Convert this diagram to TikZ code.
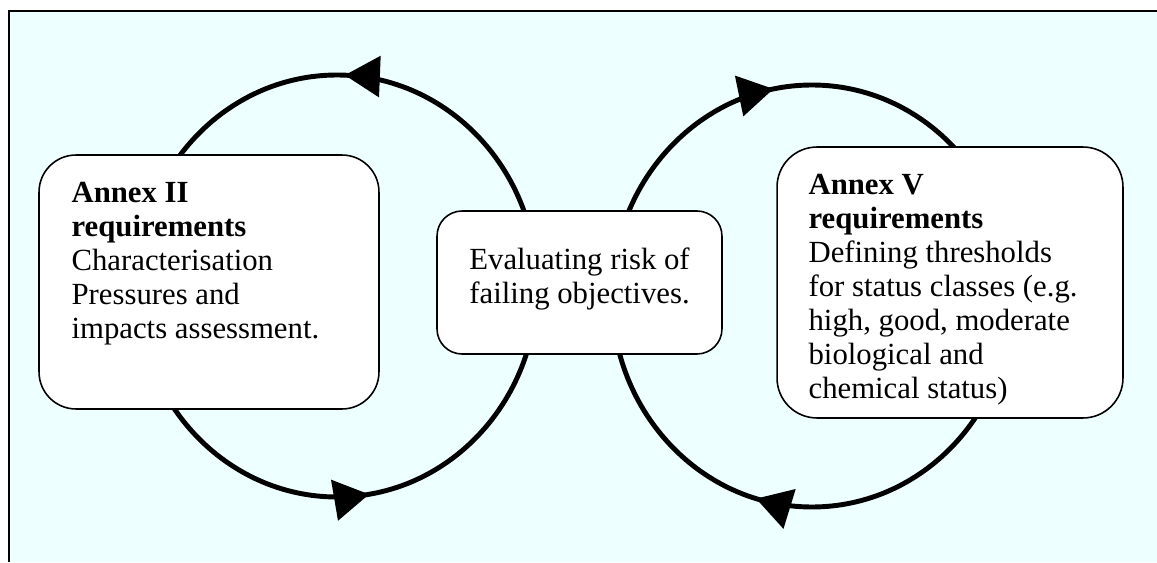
\documentclass[tikz,border=0pt]{standalone}
\usepackage{fontspec}
\setmainfont{Liberation Serif}
\usepackage{tikz}
\usetikzlibrary{arrows.meta,positioning,decorations.markings}
\definecolor{paleaqua}{RGB}{238,255,255}
\tikzset{
  panel/.style={draw=black, line width=0.9pt, fill=white, inner sep=0pt},
  note/.style={align=left, inner sep=0pt, font=\fontsize{17.5}{19.3}\selectfont},
  loopline/.style={line width=2.8pt, draw=black, postaction={decorate}}
}

\begin{document}
\begin{tikzpicture}[x=0.02cm, y=0.02cm]
  \useasboundingbox (0,0) rectangle (1157,562);
  % backdrop
  \fill[paleaqua] (9,0) rectangle (1157,551);
  \draw[line width=0.85pt] (9,0) -- (9,551) -- (1157,551);

  % the two loops
  \coordinate (leftloop) at (337,276);
  \coordinate (rightloop) at (812,266);
  \draw[loopline, decoration={markings,
      mark=at position 0.244 with {\arrow{Triangle[length=20pt, width=23pt]}},
      mark=at position 0.775 with {\arrow{Triangle[length=20pt, width=23pt]}}}]
    (leftloop) ellipse [x radius=200, y radius=211];
  \draw[loopline, decoration={markings,
      mark=at position 0.294 with {\arrow{Triangle[length=20pt, width=23pt]}},
      mark=at position 0.72 with {\arrow{Triangle[length=20pt, width=23pt]}}}]
    ([shift={(200,0)}]rightloop) arc [start angle=0, end angle=-360, x radius=200, y radius=211];

  % boxes
  \node[panel, minimum width=6.8cm, minimum height=5.08cm, rounded corners=0.74cm] (annexII) at (209,280) {};
  \node[panel, minimum width=5.7cm, minimum height=2.86cm, rounded corners=0.5cm] (risk) at (579.5,279.5) {};
  \node[panel, minimum width=6.92cm, minimum height=5.42cm, rounded corners=0.8cm] (annexV) at (950,279.5) {};

  \node[note, anchor=north west] (annexIItext) at ([shift={(33,-28)}]annexII.north west)
    {\textbf{Annex II}\\\textbf{requirements}\\Characterisation\\Pressures and\\impacts assessment.};
  \node[note, align=center, anchor=north] (risktext) at ([shift={(0,-37)}]risk.north)
    {Evaluating risk of\\failing objectives.};
  \node[note, anchor=north west] (annexVtext) at ([shift={(32,-28)}]annexV.north west)
    {\textbf{Annex V}\\\textbf{requirements}\\Defining thresholds\\for status classes (e.g.\\high, good, moderate\\biological and\\chemical status)};
\end{tikzpicture}
\end{document}
